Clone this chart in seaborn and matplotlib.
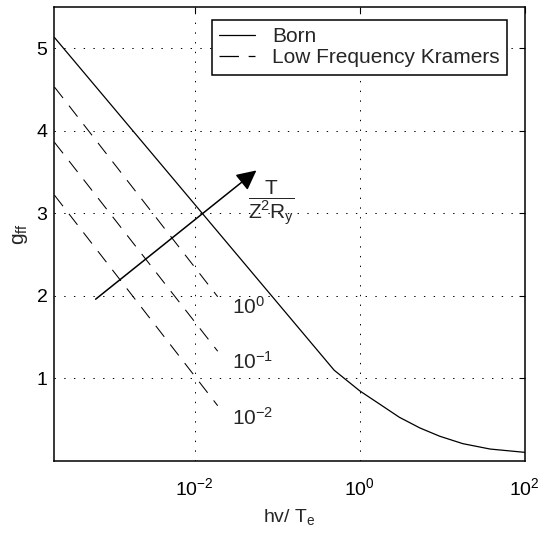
import numpy as np
import pandas as pd
import matplotlib
matplotlib.use("Agg")
import matplotlib.pyplot as plt
from matplotlib.lines import Line2D
import seaborn as sns

# Born gaunt factor curve
born_hv = [2.0e-4, 0.49, 1.0, 1.74, 3.02, 5.37, 9.33, 17.8, 38.0, 100.0]
born_g = [5.13, 1.10, 0.85, 0.69, 0.53, 0.40, 0.30, 0.21, 0.145, 0.105]

# low frequency Kramers lines, one per temperature T/(Z^2 Ry)
kram_labels = ["$10^0$", "$10^{-1}$", "$10^{-2}$"]
kram_hv = [2.0e-4, 0.019]
kram_g_start = [4.53, 3.86, 3.22]
kram_g_end = [1.99, 1.33, 0.67]
label_g = [1.87, 1.20, 0.52]

sns.set_style("white")
plt.rcParams["font.family"] = ["Liberation Sans", "DejaVu Sans"]
plt.rcParams["mathtext.fontset"] = "custom"
plt.rcParams["mathtext.rm"] = "Liberation Sans"
plt.rcParams["mathtext.it"] = "Liberation Sans"
plt.rcParams["mathtext.bf"] = "Liberation Sans:bold"
plt.rcParams["lines.scale_dashes"] = False

fig = plt.figure(figsize=(5.41, 5.37), dpi=100)
ax = fig.add_axes([0.1007, 0.1415, 0.8693, 0.8455])

born = pd.DataFrame({"hv": born_hv, "g": born_g})
sns.lineplot(data=born, x="hv", y="g", ax=ax, color="k", lw=0.9, sort=False)

for g0, g1 in zip(kram_g_start, kram_g_end):
    d = pd.DataFrame({"hv": kram_hv, "g": [g0, g1]})
    sns.lineplot(data=d, x="hv", y="g", ax=ax, color="k", lw=0.75,
                 sort=False).lines[-1].set_dashes((10, 7))

ax.set_xscale("log")
ax.set_xlim(2.0e-4, 100)
ax.set_ylim(0, 5.5)
ax.set_xticks([1e-2, 1e0, 1e2])
ax.set_yticks([1, 2, 3, 4, 5])
ax.minorticks_off()
ax.tick_params(direction="in", top=True, right=True, length=4, width=0.8,
               labelsize=14, colors="k")
ax.tick_params(axis="x", pad=12)
ax.tick_params(axis="y", pad=5)
ax.grid(True, color="k", linestyle=(0, (1, 6)), lw=0.7)
for s in ax.spines.values():
    s.set_color("k")
    s.set_linewidth(1.1)

ax.set_xlabel("hv/ T$_\\mathregular{e}$", fontsize=14, labelpad=5)
ax.set_ylabel("g$_\\mathregular{ff}$", fontsize=15, labelpad=5)

# temperature labels next to the dashed lines
for lab, yy in zip(kram_labels, label_g):
    ax.text(0.028, yy, lab, fontsize=15, ha="left", va="center")

# arrow showing increasing temperature
ax.annotate("", xy=(0.056, 3.52), xytext=(6.3e-4, 1.96),
            arrowprops=dict(arrowstyle="-|>", mutation_scale=30, lw=1.1,
                            color="k", shrinkA=0, shrinkB=0))
ax.text(0.085, 3.13, r"$\dfrac{\mathregular{T}}{\mathregular{Z^2R_y}}$",
        fontsize=15, ha="center", va="center")

handles = [Line2D([], [], color="k", lw=0.9),
           Line2D([], [], color="k", lw=0.9, dashes=(14, 7))]
leg = ax.legend(handles, ["Born", "Low Frequency Kramers"], loc="upper right",
                bbox_to_anchor=(0.962, 0.972), borderaxespad=0, fontsize=15,
                handlelength=1.75, frameon=True, fancybox=False, framealpha=1,
                borderpad=0.35, labelspacing=0.12, handletextpad=0.8)
leg.get_frame().set_edgecolor("k")
leg.get_frame().set_linewidth(1.1)

fig.savefig("out.png", dpi=100)
